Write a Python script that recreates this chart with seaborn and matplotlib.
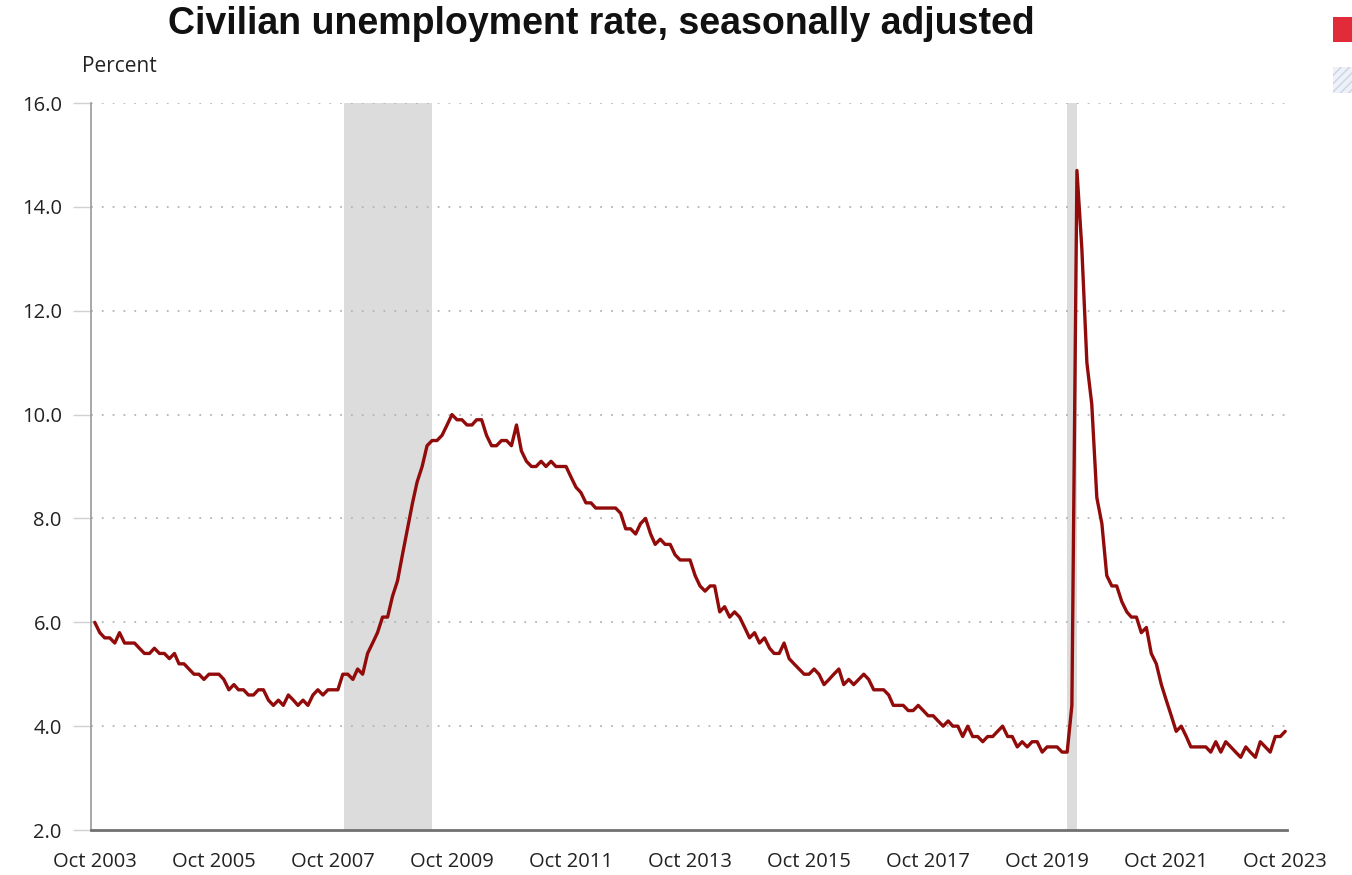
import matplotlib
matplotlib.use("Agg")
import matplotlib.pyplot as plt
from matplotlib.patches import Rectangle
import seaborn as sns
import pandas as pd

title = "Civilian unemployment rate, seasonally adjusted"
y_label = "Percent"
start_month = "2003-10-01"

rate = [
    6.0, 5.8, 5.7,
    5.7, 5.6, 5.8, 5.6, 5.6, 5.6, 5.5, 5.4, 5.4, 5.5, 5.4, 5.4,
    5.3, 5.4, 5.2, 5.2, 5.1, 5.0, 5.0, 4.9, 5.0, 5.0, 5.0, 4.9,
    4.7, 4.8, 4.7, 4.7, 4.6, 4.6, 4.7, 4.7, 4.5, 4.4, 4.5, 4.4,
    4.6, 4.5, 4.4, 4.5, 4.4, 4.6, 4.7, 4.6, 4.7, 4.7, 4.7, 5.0,
    5.0, 4.9, 5.1, 5.0, 5.4, 5.6, 5.8, 6.1, 6.1, 6.5, 6.8, 7.3,
    7.8, 8.3, 8.7, 9.0, 9.4, 9.5, 9.5, 9.6, 9.8, 10.0, 9.9, 9.9,
    9.8, 9.8, 9.9, 9.9, 9.6, 9.4, 9.4, 9.5, 9.5, 9.4, 9.8, 9.3,
    9.1, 9.0, 9.0, 9.1, 9.0, 9.1, 9.0, 9.0, 9.0, 8.8, 8.6, 8.5,
    8.3, 8.3, 8.2, 8.2, 8.2, 8.2, 8.2, 8.1, 7.8, 7.8, 7.7, 7.9,
    8.0, 7.7, 7.5, 7.6, 7.5, 7.5, 7.3, 7.2, 7.2, 7.2, 6.9, 6.7,
    6.6, 6.7, 6.7, 6.2, 6.3, 6.1, 6.2, 6.1, 5.9, 5.7, 5.8, 5.6,
    5.7, 5.5, 5.4, 5.4, 5.6, 5.3, 5.2, 5.1, 5.0, 5.0, 5.1, 5.0,
    4.8, 4.9, 5.0, 5.1, 4.8, 4.9, 4.8, 4.9, 5.0, 4.9, 4.7, 4.7,
    4.7, 4.6, 4.4, 4.4, 4.4, 4.3, 4.3, 4.4, 4.3, 4.2, 4.2, 4.1,
    4.0, 4.1, 4.0, 4.0, 3.8, 4.0, 3.8, 3.8, 3.7, 3.8, 3.8, 3.9,
    4.0, 3.8, 3.8, 3.6, 3.7, 3.6, 3.7, 3.7, 3.5, 3.6, 3.6, 3.6,
    3.5, 3.5, 4.4, 14.7, 13.2, 11.0, 10.2, 8.4, 7.9, 6.9, 6.7, 6.7,
    6.4, 6.2, 6.1, 6.1, 5.8, 5.9, 5.4, 5.2, 4.8, 4.5, 4.2, 3.9,
    4.0, 3.8, 3.6, 3.6, 3.6, 3.6, 3.5, 3.7, 3.5, 3.7, 3.6, 3.5,
    3.4, 3.6, 3.5, 3.4, 3.7, 3.6, 3.5, 3.8, 3.8, 3.9,
]

recession_start = ["2007-12-10", "2020-02-01"]
recession_end = ["2009-06-01", "2020-04-01"]

y_ticks = [2.0, 4.0, 6.0, 8.0, 10.0, 12.0, 14.0, 16.0]
x_tick_years = [2003, 2005, 2007, 2009, 2011, 2013, 2015, 2017, 2019, 2021, 2023]

dates = pd.date_range(start_month, periods=len(rate), freq="MS")
df = pd.DataFrame({"date": dates, "rate": rate})

sns.set_style("white")
plt.rcParams["font.family"] = ["Open Sans", "DejaVu Sans"]

fig = plt.figure(figsize=(13.52, 8.75), dpi=100)
ax = fig.add_axes([91 / 1352, 1 - 830 / 875, (1287 - 91) / 1352, (830 - 103) / 875])

for s, e in zip(recession_start, recession_end):
    ax.axvspan(pd.Timestamp(s), pd.Timestamp(e), color="#dcdcdc", lw=0, zorder=0)

sns.lineplot(data=df, x="date", y="rate", ax=ax, color="#920b0b", lw=2.4, zorder=3)

ax.set_ylim(2.0, 16.0)
ax.set_yticks(y_ticks)
ax.set_yticklabels([f"{v:.1f}" for v in y_ticks])
ax.set_xlim(pd.Timestamp("2003-09-08"), pd.Timestamp("2023-10-12"))
ax.set_xticks([pd.Timestamp(f"{y}-10-01") for y in x_tick_years])
ax.set_xticklabels([f"Oct {y}" for y in x_tick_years])
ax.set_xlabel("")
ax.set_ylabel("")

ax.yaxis.grid(True, linestyle=(0, (1, 5)), color="#b5b5b5", lw=1.3)
ax.xaxis.grid(False)
for gl in ax.get_ygridlines():
    gl.set_zorder(1)
ax.get_ygridlines()[0].set_visible(False)

for side in ["top", "right"]:
    ax.spines[side].set_visible(False)
ax.spines["left"].set_color("#9a9a9a")
ax.spines["left"].set_linewidth(1.2)
ax.spines["bottom"].set_color("#707070")
ax.spines["bottom"].set_linewidth(2.0)
ax.spines["bottom"].set_zorder(4)

ax.tick_params(axis="y", which="major", length=13, width=1, color="#d0d0d0",
               labelsize=14.5, labelcolor="#222222", pad=8, left=True)
ax.tick_params(axis="x", which="major", length=0, labelsize=14.5,
               labelcolor="#222222", pad=16)

fig.text(601 / 1352, 1 - 24 / 875, title, ha="center", va="center",
         fontsize=27, fontweight="bold", family=["Liberation Sans", "DejaVu Sans"],
         color="#111111")
fig.text(82 / 1352, 1 - 66 / 875, y_label, ha="left", va="center",
         fontsize=15, color="#222222")

fig.patches.append(Rectangle((1333 / 1352, 1 - 42 / 875), 20 / 1352, 25 / 875,
                             transform=fig.transFigure, facecolor="#e12b38",
                             edgecolor="none"))
fig.patches.append(Rectangle((1333 / 1352, 1 - 93 / 875), 20 / 1352, 26 / 875,
                             transform=fig.transFigure, facecolor="#eef2f8",
                             edgecolor="#c8d4e4", hatch="////", lw=0))

fig.savefig("out.png", dpi=100)
